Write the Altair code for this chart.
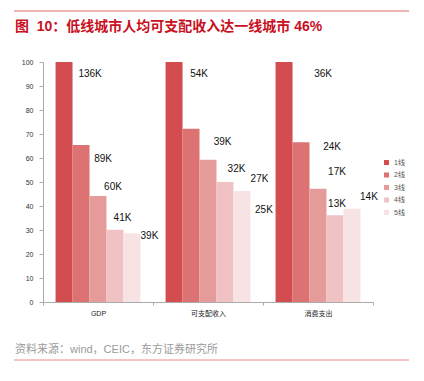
import altair as alt
import pandas as pd

categories = ["GDP", "可支配收入", "消费支出"]
tiers = ["1线", "2线", "3线", "4线", "5线"]
gdp_index = [100, 65.4, 44.2, 30.1, 28.6]
income_index = [100, 72.2, 59.3, 50.0, 46.3]
consume_index = [100, 66.6, 47.2, 36.1, 38.9]
gdp_labels = ["136K", "89K", "60K", "41K", "39K"]
income_labels = ["54K", "39K", "32K", "27K", "25K"]
consume_labels = ["36K", "24K", "17K", "13K", "14K"]
colors = ["#d34d50", "#dc7272", "#e69b9b", "#f0c2c3", "#f8e3e4"]

# label nudges in px relative to the top-centre of each bar (style only)
label_dx = [[26, 22, 15, 7.5, 17.5], [25, 31.5, 28.5, 34.5, 22], [39, 31, 19, 2, 17]]
label_dy = [[11.5, 13.5, -9, -12, 2.6], [11.5, 13.3, 9.3, -3.5, 19.6], [11.5, 4.9, -16.7, -11.4, -12.1]]

FONT = "Liberation Sans, Noto Sans CJK SC"

rows = []
for ci, (cat, vals, labs) in enumerate(zip(categories, [gdp_index, income_index, consume_index],
                                           [gdp_labels, income_labels, consume_labels])):
    for ti, (t, v, l) in enumerate(zip(tiers, vals, labs)):
        rows.append({"category": cat, "tier": t, "value": v, "label": l,
                     "idx": ci * 5 + ti, "ci": ci, "ti": ti})
df = pd.DataFrame(rows)

W, H = 330, 240

x_enc = alt.X("category:N", sort=categories,
              scale=alt.Scale(paddingInner=0, paddingOuter=0),
              axis=alt.Axis(title=None, labelAngle=0, labelFontSize=7, labelColor="#222",
                            labelFont=FONT, domainColor="#aaaaaa", tickColor="#aaaaaa",
                            tickBand="extent", tickSize=3, labelPadding=4))
xo_enc = alt.XOffset("tier:N", sort=tiers, scale=alt.Scale(paddingInner=0, paddingOuter=0.74))
y_enc = alt.Y("value:Q", scale=alt.Scale(domain=[0, 100], nice=False),
              axis=alt.Axis(title=None, values=list(range(0, 101, 10)), grid=False,
                            labelOverlap=False, labelFontSize=7, labelColor="#333",
                            labelFont=FONT, domainColor="#aaaaaa", tickColor="#aaaaaa",
                            tickSize=4, labelPadding=6))

bars = alt.Chart(df).mark_bar().encode(
    x=x_enc, xOffset=xo_enc, y=y_enc,
    color=alt.Color("tier:N", sort=tiers, scale=alt.Scale(domain=tiers, range=colors),
                    legend=alt.Legend(title=None, orient="none", legendX=340, legendY=97,
                                      symbolType="square", symbolSize=25, labelFontSize=7,
                                      labelColor="#555", labelFont=FONT, rowPadding=4.5,
                                      symbolStrokeWidth=0)),
)

layers = [bars]
for r in rows:
    layers.append(
        alt.Chart(df).transform_filter(alt.datum.idx == r["idx"]).mark_text(
            dx=label_dx[r["ci"]][r["ti"]], dy=label_dy[r["ci"]][r["ti"]],
            fontSize=10, font=FONT, color="#111", align="center", baseline="middle"
        ).encode(x=x_enc, xOffset=xo_enc, y=y_enc, text="label:N")
    )

one = pd.DataFrame({"a": [0]})
top_line = alt.Chart(one).mark_rule(color="#e06666", strokeWidth=1).encode(
    x=alt.value(-29), x2=alt.value(366), y=alt.value(-51))
bottom_line = alt.Chart(one).mark_rule(color="#f08a8a", strokeWidth=1).encode(
    x=alt.value(-29), x2=alt.value(366), y=alt.value(298))
title = alt.Chart(one).mark_text(align="left", baseline="middle", fontSize=14, fontWeight="bold",
                                  color="#c8101e", font=FONT).encode(
    x=alt.value(-28), y=alt.value(-35),
    text=alt.value("图\u00a0\u00a010：低线城市人均可支配收入达一线城市 46%"))
source = alt.Chart(one).mark_text(align="left", baseline="middle", fontSize=11,
                                   color="#9a9a9a", font=FONT).encode(
    x=alt.value(-28), y=alt.value(288), text=alt.value("资料来源：wind，CEIC，东方证券研究所"))

chart = alt.layer(*layers, top_line, bottom_line, title, source).properties(
    width=W, height=H,
    autosize=alt.AutoSizeParams(type="none"),
    padding={"left": 35, "top": 54, "right": 43, "bottom": 71},
).configure_view(stroke=None)

chart.save("out.html", embed_options={"renderer": "svg", "actions": False})
